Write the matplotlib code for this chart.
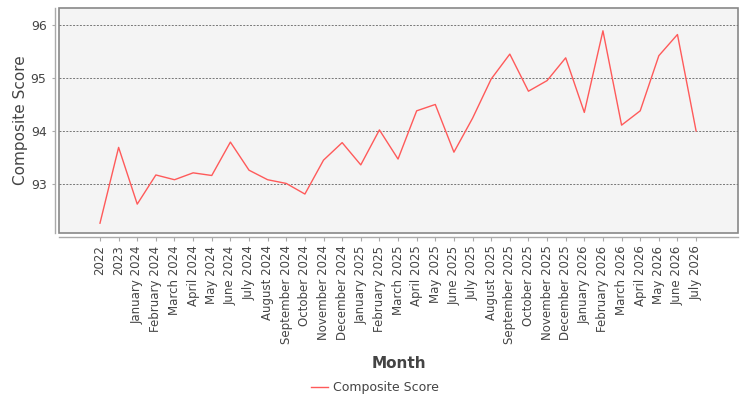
import matplotlib.pyplot as plt
import numpy as np

months = ["2022", "2023",
          "January 2024", "February 2024", "March 2024", "April 2024", "May 2024", "June 2024",
          "July 2024", "August 2024", "September 2024", "October 2024", "November 2024", "December 2024",
          "January 2025", "February 2025", "March 2025", "April 2025", "May 2025", "June 2025",
          "July 2025", "August 2025", "September 2025", "October 2025", "November 2025", "December 2025",
          "January 2026", "February 2026", "March 2026", "April 2026", "May 2026", "June 2026",
          "July 2026"]
scores = [92.26, 93.69,
          92.62, 93.17, 93.08, 93.21, 93.16, 93.79,
          93.26, 93.08, 93.01, 92.81, 93.45, 93.78,
          93.36, 94.02, 93.47, 94.38, 94.50, 93.60,
          94.24, 94.98, 95.45, 94.75, 94.95, 95.38,
          94.35, 95.89, 94.11, 94.38, 95.42, 95.82,
          94.00]

TXT = "#444444"
AX = "#888888"

fig = plt.figure(figsize=(7.5, 4), dpi=100)
ax = fig.add_axes([59 / 750, 1 - 233 / 400, (738 - 59) / 750, (233 - 8) / 400])

x = np.arange(len(months))
line, = ax.plot(x, scores, color="#ff5a5a", lw=1.0, label="Composite Score")

ax.set_facecolor("#f4f4f4")
ax.patch.set_edgecolor(AX)
ax.patch.set_linewidth(1.2)

for s in ["top", "right"]:
    ax.spines[s].set_visible(False)
for s in ["left", "bottom"]:
    ax.spines[s].set_position(("outward", 3))
    ax.spines[s].set_color("#aaaaaa")
    ax.spines[s].set_linewidth(1.0)

ax.set_xlim(-2.2, len(months) - 1 + 2.25)
ax.set_ylim(92.075, 96.32)
ax.set_yticks([93, 94, 95, 96])
ax.set_xticks(x)
ax.set_xticklabels(months)

ax.grid(axis="y", color="#777777", ls=(0, (2, 1.5)), lw=0.7)
ax.set_axisbelow(True)

ax.tick_params(axis="x", length=3, width=0.8, color="#aaaaaa", labelsize=8.5,
               labelcolor=TXT, pad=3, labelrotation=90)
ax.tick_params(axis="y", length=2, width=0.8, color="#aaaaaa", labelsize=9,
               labelcolor=TXT, pad=4)

ax.set_ylabel("Composite Score", fontsize=11, color=TXT, labelpad=2)
ax.set_xlabel("Month", fontsize=11, fontweight="bold", color=TXT, labelpad=8)

fig.legend(handles=[line], loc="center", bbox_to_anchor=(0.5, 1 - 388 / 400),
           frameon=False, fontsize=9, handlelength=1.3, handletextpad=0.4,
           labelcolor=TXT)

fig.savefig("out.png", dpi=100)
